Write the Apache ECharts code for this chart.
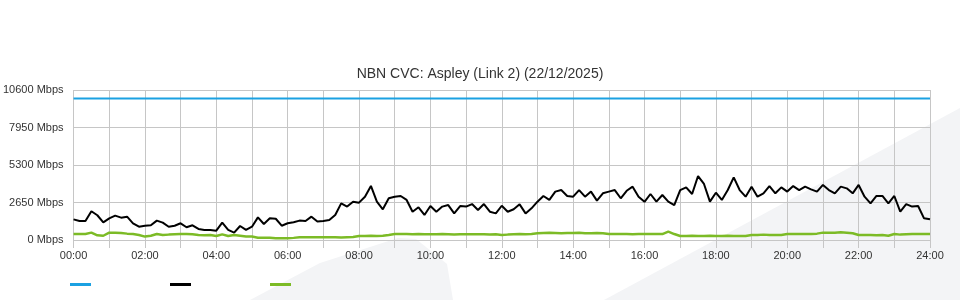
<!DOCTYPE html>
<html>
<head>
<meta charset="utf-8">
<script src="https://cdn.jsdelivr.net/npm/echarts@6/dist/echarts.min.js"></script>
<style>
html,body{margin:0;padding:0;background:#fff;}
#chart{width:960px;height:300px;}
</style>
</head>
<body>
<div id="chart"></div>
<script>
// Title and tick labels
var chartTitle = 'NBN CVC: Aspley (Link 2) (22/12/2025)';
var yTicks = [0, 2650, 5300, 7950, 10600];
var stepMinutes = 10; // sample spacing, 00:00 .. 24:00

// Capacity (blue), Mbps
var capacityMbps = 10000;

// Black series, Mbps, one row per hour (10-minute samples)
var blackValues = [
  1460, 1340, 1340, 2030, 1750, 1250,   // 00
  1530, 1720, 1580, 1650, 1180, 940,    // 01
  1010, 1040, 1370, 1230, 940, 1010,    // 02
  1180, 900, 1040, 780, 710, 710,       // 03
  660, 1230, 710, 520, 990, 710,        // 04
  940, 1600, 1130, 1530, 1500, 1010,    // 05
  1180, 1250, 1370, 1340, 1650, 1300,   // 06
  1340, 1410, 1770, 2590, 2360, 2710,   // 07
  2640, 3060, 3820, 2710, 2170, 2950,   // 08
  3060, 3110, 2830, 2000, 2310, 1770,   // 09
  2400, 2000, 2360, 2470, 1880, 2400,   // 10
  2360, 2540, 2120, 2540, 2000, 1880,   // 11
  2420, 2000, 2170, 2520, 1880, 2240,   // 12
  2710, 3110, 2830, 3420, 3530, 3110,   // 13
  3060, 3530, 3060, 3420, 2780, 3300,   // 14
  3420, 3530, 2950, 3480, 3770, 3060,   // 15
  2700, 3250, 2710, 3180, 2710, 2470,   // 16
  3530, 3720, 3250, 4520, 3960, 2710,   // 17
  3340, 2830, 3530, 4430, 3530, 3060,   // 18
  3770, 3060, 3300, 3810, 3300, 3720,   // 19
  3420, 3810, 3530, 3770, 3580, 3420,   // 20
  3890, 3530, 3300, 3770, 3650, 3300,   // 21
  3890, 3060, 2590, 3110, 3110, 2590,   // 22
  3110, 2000, 2540, 2360, 2400, 1530,   // 23
  1460                                  // 24
];

// Green series, Mbps
var greenValues = [
  420, 420, 430, 520, 330, 300,
  520, 520, 500, 450, 420, 350,
  240, 300, 420, 350, 380, 400,
  420, 420, 400, 350, 330, 350,
  280, 400, 280, 350, 300, 250,
  240, 165, 165, 160, 120, 130,
  120, 150, 190, 190, 190, 190,
  190, 190, 190, 180, 200, 210,
  280, 280, 300, 280, 300, 350,
  420, 430, 420, 400, 420, 400,
  400, 400, 420, 400, 380, 400,
  400, 400, 410, 400, 380, 400,
  350, 380, 400, 420, 400, 430,
  470, 500, 520, 500, 480, 500,
  500, 520, 480, 470, 500, 480,
  420, 430, 420, 430, 410, 420,
  420, 430, 420, 420, 590, 420,
  280, 280, 300, 280, 290, 300,
  280, 280, 300, 280, 290, 280,
  350, 350, 380, 350, 360, 350,
  420, 430, 420, 430, 420, 450,
  520, 520, 520, 540, 520, 480,
  350, 350, 360, 330, 350, 300,
  420, 380, 400, 420, 420, 420,
  420
];

function toPairs(arr) {
  return arr.map(function (v, i) { return [i * stepMinutes, v]; });
}
var capacityValues = blackValues.map(function () { return capacityMbps; });

function hhmm(m) {
  var h = Math.round(m / 60);
  return (h < 10 ? '0' : '') + h + ':00';
}

var chart = echarts.init(document.getElementById('chart'), null, {renderer: 'canvas'});
var gridColor = '#c6c6c6';
var option = {
  animation: false,
  backgroundColor: '#ffffff',
  textStyle: {fontFamily: 'Liberation Sans, Arial, sans-serif'},
  title: {
    text: chartTitle,
    left: 'center',
    top: 62,
    textStyle: {fontSize: 14, fontWeight: 'normal', color: '#333333', fontFamily: 'Liberation Sans, Arial, sans-serif'}
  },
  graphic: {
    z: -100,
    elements: [
      {
        type: 'polygon', z: -100, silent: true,
        shape: {points: [[250, 300], [320, 263], [398, 238], [416, 239], [447, 264], [453, 300]]},
        style: {fill: '#f3f4f6'}
      },
      {
        type: 'polygon', z: -100, silent: true,
        shape: {points: [[604, 300], [960, 108], [960, 300]]},
        style: {fill: '#f3f4f6'}
      }
    ]
  },
  legend: {
    left: 70,
    top: 283,
    padding: 0,
    itemWidth: 21,
    itemHeight: 3,
    itemGap: 79,
    icon: 'rect',
    formatter: function () { return ''; },
    data: ['Capacity', 'Download', 'Upload'],
    selectedMode: false
  },
  grid: {left: 70, right: 30, top: 90, bottom: 60, containLabel: false},
  xAxis: {
    type: 'value',
    min: 0,
    max: 1440,
    interval: 120,
    axisLine: {show: false},
    axisTick: {show: true, length: 8, lineStyle: {color: gridColor}},
    minorTick: {show: true, splitNumber: 2, length: 8, lineStyle: {color: gridColor}},
    splitLine: {show: true, lineStyle: {color: gridColor, width: 1}},
    minorSplitLine: {show: true, lineStyle: {color: gridColor, width: 1}},
    axisLabel: {
      color: '#333333', fontSize: 11, margin: 10,
      formatter: function (v) { return hhmm(v); }
    }
  },
  yAxis: {
    type: 'value',
    min: 0,
    max: 10600,
    interval: 2650,
    axisLine: {show: false},
    axisTick: {show: false},
    splitLine: {show: true, lineStyle: {color: gridColor, width: 1}},
    axisLabel: {
      color: '#333333', fontSize: 11, margin: 10,
      formatter: function (v) { return v + ' Mbps'; }
    }
  },
  series: [
    {
      name: 'Capacity', type: 'line', data: toPairs(capacityValues),
      showSymbol: false, symbol: 'none',
      lineStyle: {color: '#1ba1e2', width: 2}, itemStyle: {color: '#1ba1e2'}
    },
    {
      name: 'Download', type: 'line', data: toPairs(blackValues),
      showSymbol: false, symbol: 'none',
      lineStyle: {color: '#000000', width: 2}, itemStyle: {color: '#000000'}
    },
    {
      name: 'Upload', type: 'line', data: toPairs(greenValues),
      showSymbol: false, symbol: 'none',
      lineStyle: {color: '#7cbb26', width: 2.5}, itemStyle: {color: '#7cbb26'}
    }
  ]
};
chart.setOption(option);
</script>
</body>
</html>
